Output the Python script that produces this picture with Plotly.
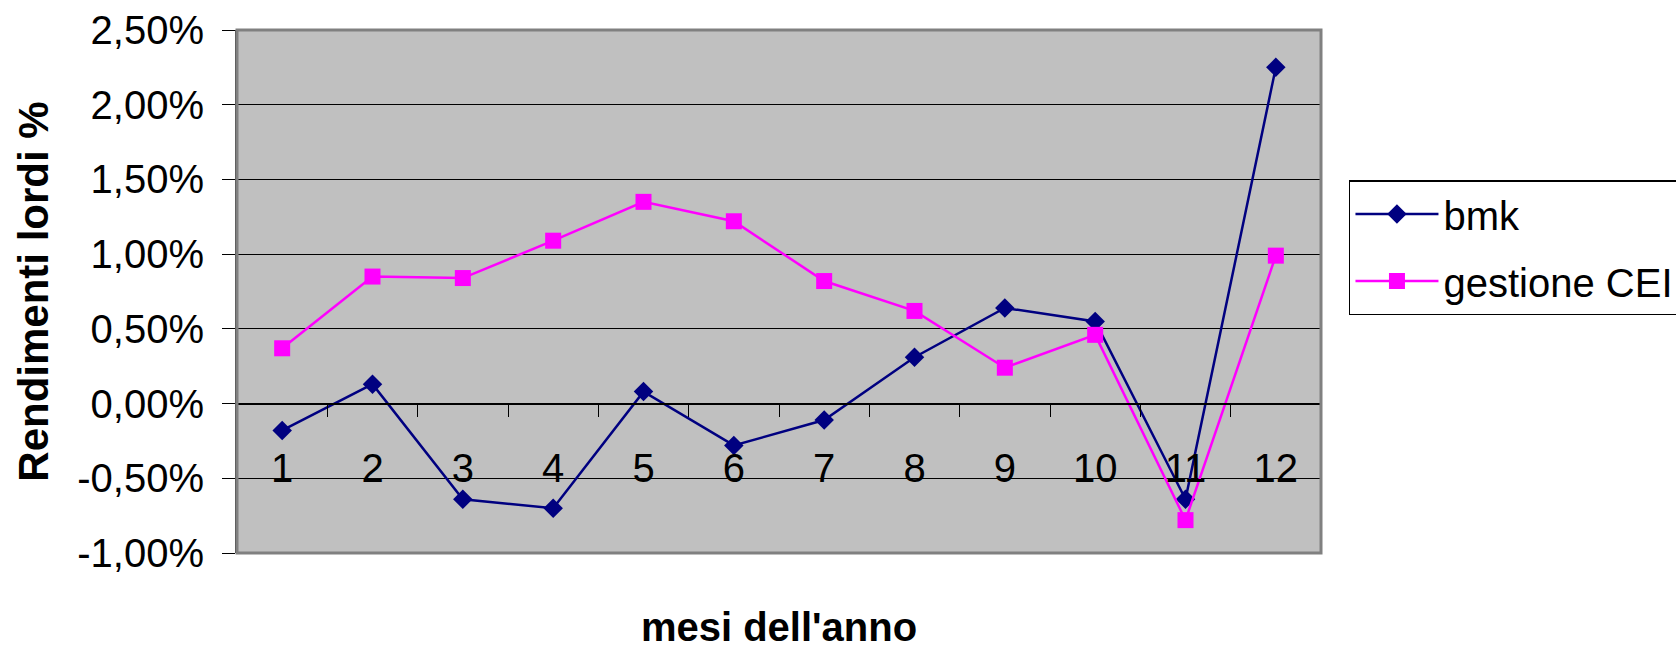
import plotly.graph_objects as go

months = ["1", "2", "3", "4", "5", "6", "7", "8", "9", "10", "11", "12"]
bmk = [-0.0018, 0.0013, -0.0064, -0.0070, 0.0008, -0.0028, -0.0011, 0.0031, 0.0064, 0.0055, -0.0064, 0.0225]
gestione_cei = [0.0037, 0.0085, 0.0084, 0.0109, 0.0135, 0.0122, 0.0082, 0.0062, 0.0024, 0.0046, -0.0078, 0.0099]
series_names = ["bmk", "gestione CEI"]
y_tick_values = [-0.01, -0.005, 0.0, 0.005, 0.01, 0.015, 0.02, 0.025]
y_tick_labels = ["-1,00%", "-0,50%", "0,00%", "0,50%", "1,00%", "1,50%", "2,00%", "2,50%"]
y_title = "Rendimenti lordi %"
x_title = "mesi dell'anno"

FONT = "Liberation Sans, Arial, sans-serif"

fig = go.Figure()
fig.add_trace(go.Scatter(
    x=months, y=bmk, name=series_names[0], mode="lines+markers",
    legendgroup="g1",
    line=dict(color="#000080", width=2.5),
    marker=dict(symbol="diamond", size=15, color="#000080"),
))
fig.add_trace(go.Scatter(
    x=months, y=gestione_cei, name=series_names[1], mode="lines+markers",
    legendgroup="g2",
    line=dict(color="#FF00FF", width=2.5),
    marker=dict(symbol="square", size=16, color="#FF00FF"),
))

fig.update_layout(
    width=1676, height=649,
    margin=dict(l=237, r=355, t=30, b=96, autoexpand=False),
    paper_bgcolor="white",
    plot_bgcolor="#C0C0C0",
    font=dict(family=FONT, size=40, color="black"),
    showlegend=True,
    legend=dict(
        x=1.0258, y=0.713, xanchor="left", yanchor="top",
        bgcolor="white", bordercolor="black", borderwidth=1.5,
        font=dict(family=FONT, size=40, color="black"),
        itemwidth=83, tracegroupgap=12,
    ),
    shapes=[dict(type="rect", xref="paper", yref="paper", x0=0, x1=1, y0=0, y1=1,
                 line=dict(color="#808080", width=3), layer="above")],
)

fig.update_yaxes(
    range=[-0.01, 0.025], tickmode="array",
    tickvals=y_tick_values, ticktext=y_tick_labels,
    showgrid=True, gridcolor="black", gridwidth=1,
    zeroline=False,
    showline=True, linecolor="#404040", linewidth=2,
    ticks="outside", ticklen=13, tickcolor="black", tickwidth=1,
    tickfont=dict(size=40), ticklabelstandoff=10,
    title=dict(text="<b>" + y_title + "</b>", font=dict(size=42), standoff=16),
    automargin=False,
)
fig.update_xaxes(
    type="category", categoryorder="array", categoryarray=months,
    range=[-0.5, 11.5],
    anchor="free", position=1 / 3.5,
    showline=True, linecolor="black", linewidth=1.5,
    tickson="boundaries", ticks="outside", ticklen=13, tickcolor="black", tickwidth=1,
    tickfont=dict(size=40), ticklabelstandoff=30,
    showgrid=False, zeroline=False,
    title=dict(text="<b>" + x_title + "</b>", font=dict(size=40), standoff=127),
    automargin=False,
)

fig.write_html("out.html", config={"displayModeBar": False},
               post_script="document.body.style.margin='0';document.body.style.overflow='hidden';")
